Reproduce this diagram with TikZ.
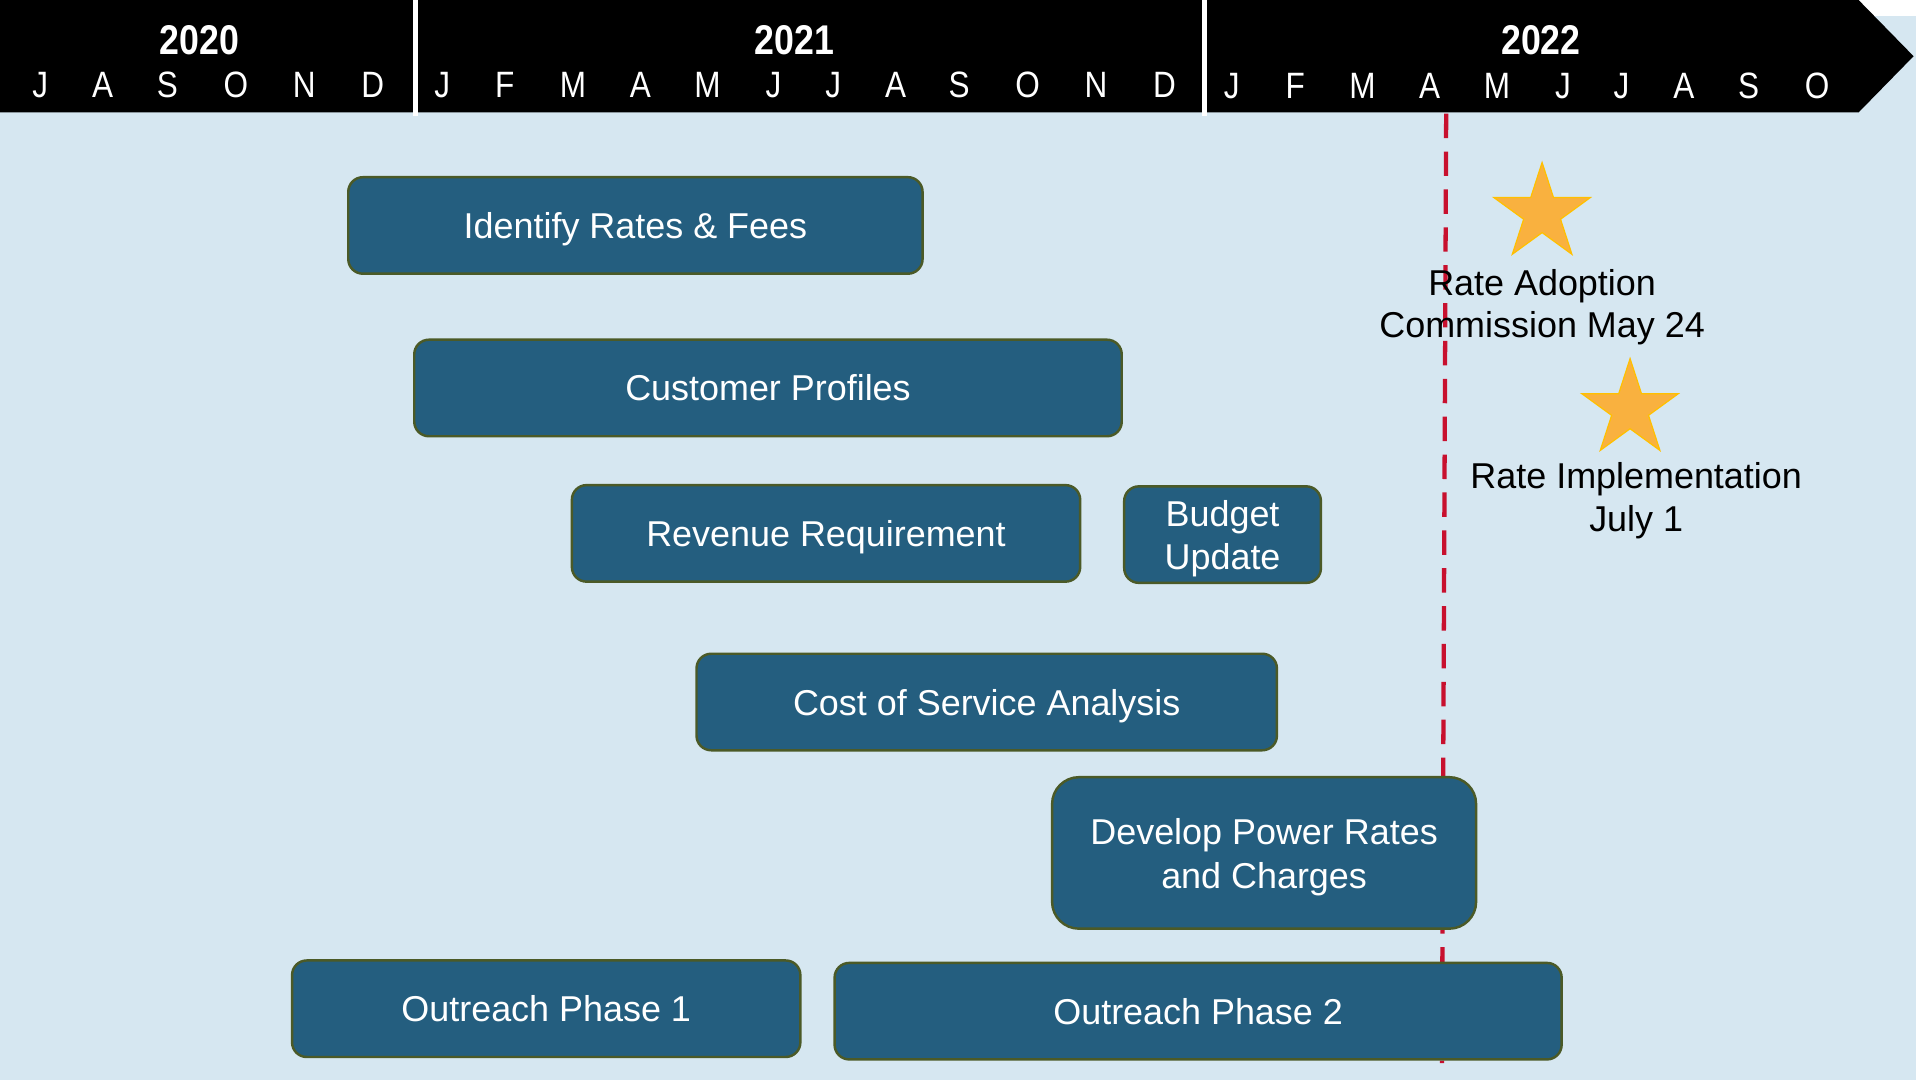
\documentclass[tikz,border=0pt]{standalone}
\usepackage{fontspec}
\setmainfont{Liberation Sans}
\newfontfamily\hdrfont[FakeStretch=0.86]{Liberation Sans}
\usetikzlibrary{shapes.geometric}
\definecolor{bgblue}{HTML}{D6E7F1}
\definecolor{boxfill}{HTML}{245E7F}
\definecolor{boxedge}{HTML}{4B5A27}
\definecolor{starfill}{HTML}{F9B13F}
\definecolor{staredge}{HTML}{FFC000}
\definecolor{milered}{HTML}{C8102E}
\newcommand{\twolines}[2]{\raisebox{0pt}[\height][\dimexpr\depth-8pt\relax]{\begin{tabular}{@{}c@{}}#1\\#2\end{tabular}}}
\begin{document}
\begin{tikzpicture}[x=1pt,y=-1pt,
  task/.style={draw=boxedge, line width=2pt, fill=boxfill, rounded corners=12pt,
    text=white, font=\fontsize{29.4}{35.5}\selectfont, inner sep=0pt},
  oneline/.style={text depth=0pt},
  month/.style={text=white, font=\hdrfont\fontsize{30}{30}\selectfont, inner sep=0pt, anchor=base},
  yearlbl/.style={text=white, font=\hdrfont\bfseries\fontsize{34}{34}\selectfont, inner sep=0pt, anchor=base},
  milestone/.style={star, star points=5, star point ratio=2.618, minimum size=83pt,
    inner sep=0pt, fill=starfill, draw=staredge, line width=1pt},
  note/.style={text=black, font=\fontsize{29.4}{35}\selectfont, align=center, inner sep=0pt}
]
\useasboundingbox (0,0) rectangle (1568,884);
% background
\fill[white] (0,0) rectangle (1568,884);
\fill[bgblue] (0,13) rectangle (1568,884);
% header arrow
\fill[black] (0,0) -- (1521,0) -- (1566,46) -- (1521,92) -- (0,92) -- cycle;
\fill[white] (338,0) rectangle (342,95);
\fill[white] (984,0) rectangle (988,95);
% years
\node[yearlbl] (y2020) at (163,45) {2020};
\node[yearlbl] (y2021) at (650,45) {2021};
\node[yearlbl] (y2022) at (1261,45) {2022};
% months
\foreach \x/\m [count=\i] in {33/J,84/A,137/S,193/O,249/N,305/D}
  \node[month] (ma\i) at (\x,80) {\m};
\foreach \x/\m [count=\i] in {362/J,413/F,469/M,524/A,579/M,633/J,682/J,733/A,785/S,841/O,897/N,953/D}
  \node[month] (mb\i) at (\x,80) {\m};
\foreach \x/\m [count=\i] in {1008/J,1060/F,1115/M,1170/A,1225/M,1279/J,1327/J,1378/A,1431/S,1487/O}
  \node[month] (mc\i) at (\x,81) {\m};
% red dashed milestone line
\coordinate (redtop) at (1183.5,93);
\coordinate (redbot) at (1180,870);
\draw[milered, line width=3.5pt, dash pattern=on 20pt off 11pt] (redtop) -- (redbot);
% tasks
\node[task, oneline, minimum width=470pt, minimum height=79pt] (identify) at (520,184.5) {Identify Rates \& Fees};
\node[task, oneline, minimum width=579pt, minimum height=79pt] (customer) at (628.5,317.5) {Customer Profiles};
\node[task, oneline, minimum width=416pt, minimum height=79pt] (revenue) at (676,436.5) {Revenue Requirement};
\node[task, minimum width=161pt, minimum height=79pt] (budget) at (1000.5,437.5) {\twolines{Budget}{Update}};
\node[task, oneline, minimum width=475pt, minimum height=79pt] (cos) at (807.5,574.5) {Cost of Service Analysis};
\node[task, minimum width=347pt, minimum height=124pt, rounded corners=22pt] (develop) at (1034.5,698) {\twolines{Develop Power Rates}{and Charges}};
\node[task, oneline, minimum width=416pt, minimum height=79pt] (outreach1) at (447,825.5) {Outreach Phase 1};
\node[task, oneline, minimum width=595pt, minimum height=79pt] (outreach2) at (980.5,827.5) {Outreach Phase 2};
% milestones
\node[milestone] (star1) at (1262,174.5) {};
\node[milestone] (star2) at (1334,335) {};
\node[note] (adopt) at (1262,251.5) {Rate Adoption\\Commission May 24};
\node[note] (impl) at (1339,409.5) {Rate Implementation\\July 1};
\end{tikzpicture}
\end{document}
